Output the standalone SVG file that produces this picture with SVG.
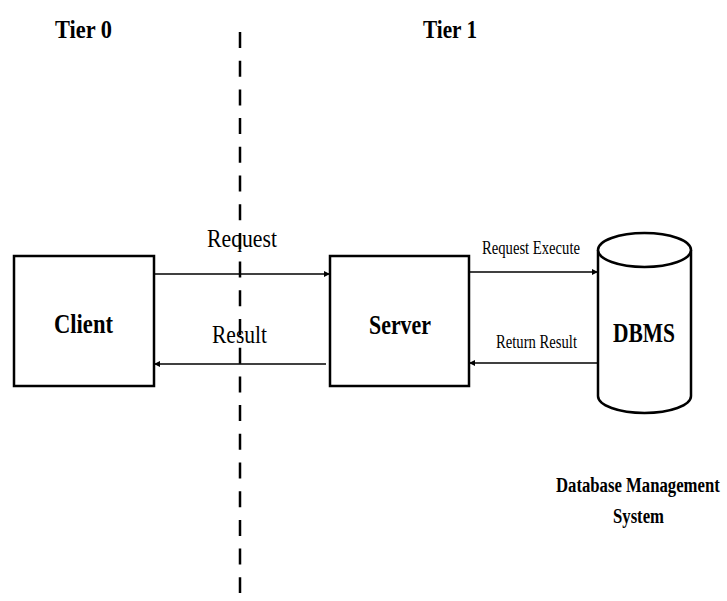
<svg xmlns="http://www.w3.org/2000/svg" width="727" height="601" viewBox="0 0 727 601">
<style>
.box{fill:#fff;stroke:#000;stroke-width:2.5}
.conn{stroke:#000;stroke-width:1.6;fill:none}
.t{font-family:"Liberation Serif","Times New Roman",serif;fill:#000}
.b{font-weight:bold}
</style>
<defs>
<marker id="ah" viewBox="0 0 10 10" refX="10" refY="5" markerWidth="6" markerHeight="6" markerUnits="userSpaceOnUse" orient="auto">
<path d="M0,0 L10,5 L0,10 z" fill="#000"/>
</marker>
</defs>
<rect width="727" height="601" fill="#fff"/>
<g id="divider">
<line x1="240" y1="32" x2="240" y2="593" stroke="#000" stroke-width="2.5" stroke-dasharray="16 12.7"/>
</g>
<g id="tier-labels">
<text class="t b" x="55" y="38" font-size="26" textLength="57" lengthAdjust="spacingAndGlyphs">Tier 0</text>
<text class="t b" x="423" y="38" font-size="26" textLength="54" lengthAdjust="spacingAndGlyphs">Tier 1</text>
</g>
<g id="client">
<rect class="box" x="14" y="256" width="140" height="130"/>
<text class="t b" x="54" y="333" font-size="28" textLength="59" lengthAdjust="spacingAndGlyphs">Client</text>
</g>
<g id="server">
<rect class="box" x="330" y="256" width="139" height="130"/>
<text class="t b" x="369" y="334" font-size="28" textLength="62" lengthAdjust="spacingAndGlyphs">Server</text>
</g>
<g id="dbms">
<path class="box" d="M598,250 L598,396 A46.5,17 0 0 0 691,396 L691,250"/>
<ellipse class="box" cx="644.5" cy="250" rx="46.5" ry="17"/>
<text class="t b" x="613" y="342" font-size="28" textLength="62" lengthAdjust="spacingAndGlyphs">DBMS</text>
<text class="t b" transform="translate(556,492) scale(0.76,1)" x="0" y="0" font-size="22">Database Management</text>
<text class="t b" x="613" y="523" font-size="22" textLength="51" lengthAdjust="spacingAndGlyphs">System</text>
</g>
<g id="connectors">
<line class="conn" x1="154" y1="274" x2="330" y2="274" marker-end="url(#ah)"/>
<line class="conn" x1="326" y1="364" x2="154" y2="364" marker-end="url(#ah)"/>
<line class="conn" x1="469" y1="272" x2="598" y2="272" stroke-width="2" marker-end="url(#ah)"/>
<line class="conn" x1="598" y1="363" x2="469" y2="363" marker-end="url(#ah)"/>
<text class="t" x="207" y="247" font-size="26" textLength="70" lengthAdjust="spacingAndGlyphs">Request</text>
<text class="t" x="212" y="343" font-size="26" textLength="55" lengthAdjust="spacingAndGlyphs">Result</text>
<text class="t" x="482" y="254" font-size="18" textLength="98" lengthAdjust="spacingAndGlyphs">Request Execute</text>
<text class="t" x="496" y="348" font-size="18" textLength="81" lengthAdjust="spacingAndGlyphs">Return Result</text>
</g>
</svg>
